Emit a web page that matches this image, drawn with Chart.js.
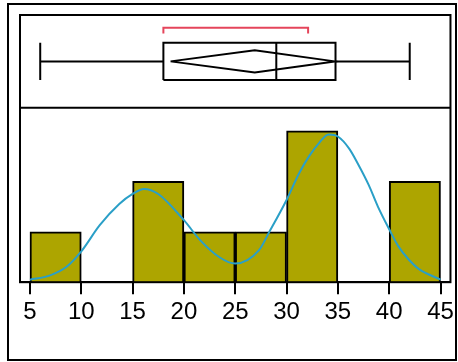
<!DOCTYPE html>
<html>
<head>
<meta charset="utf-8">
<script src="https://cdn.jsdelivr.net/npm/chart.js@4.4.1/dist/chart.umd.min.js"></script>
<style>
  html, body { margin: 0; padding: 0; background: #fff; }
  #wrap { position: relative; width: 458px; height: 362px; }
  #frame { position: absolute; left: 7px; top: 3px; width: 450px; height: 358px; border: 2px solid #000; box-sizing: border-box; }
  #chart { position: absolute; left: 0; top: 0; }
</style>
</head>
<body>
<div id="wrap">
  <div id="frame"></div>
  <canvas id="chart" width="458" height="362"></canvas>
</div>
<script>
// histogram bins (width 5)
const binCenters = [7.5, 12.5, 17.5, 22.5, 27.5, 32.5, 37.5, 42.5];
const binCounts = [1, 0, 2, 1, 1, 3, 0, 2];

// density curve (in count units)
const curveX = [5, 6.9, 8.6, 10, 11.8, 13.7, 15, 16.1, 17.5, 20, 21.6, 23.5, 25, 27.3, 28.3, 30, 31.2, 32.2, 33.2, 34.1, 35, 36.1, 37, 38, 38.9, 40, 40.9, 41.9, 42.9, 45];
const curveY = [0.05, 0.13, 0.31, 0.61, 1.13, 1.55, 1.75, 1.85, 1.75, 1.23, 0.83, 0.49, 0.37, 0.63, 0.99, 1.63, 2.15, 2.5, 2.77, 2.93, 2.89, 2.65, 2.33, 1.93, 1.5, 1.05, 0.71, 0.45, 0.26, 0.05];

// box plot summary
const whiskerLow = 6, q1 = 18, median = 29, q3 = 34.77, whiskerHigh = 42;
const meanVal = 26.9, ciLow = 18.7, ciHigh = 34.7;
const shortLow = 18, shortHigh = 32.1;

const xTicks = [5, 10, 15, 20, 25, 30, 35, 40, 45];

const BAR = '#ada500';
const CURVE = '#2a9fc7';
const RED = '#e5455b';

const pts = (arr) => arr.map(p => ({ x: p[0], y: p[1] }));
const boxLine = (data, color) => ({
  type: 'line', yAxisID: 'yBox', data: pts(data), borderColor: color || '#000',
  borderWidth: 2, pointRadius: 0, fill: false, tension: 0, spanGaps: false, order: 0
});

const panelFrame = {
  id: 'panelFrame',
  afterDatasetsDraw(chart) {
    const a = chart.chartArea;
    const ctx = chart.ctx;
    const sep = chart.scales.yBox.bottom;
    ctx.save();
    ctx.strokeStyle = '#000';
    ctx.lineWidth = 2;
    ctx.strokeRect(a.left, a.top, a.right - a.left, a.bottom - a.top);
    ctx.beginPath();
    ctx.moveTo(a.left, sep);
    ctx.lineTo(a.right, sep);
    ctx.stroke();
    ctx.restore();
  }
};

new Chart(document.getElementById('chart'), {
  type: 'bar',
  data: {
    datasets: [
      { type: 'line', yAxisID: 'y', data: curveX.map((x, i) => ({ x: x, y: curveY[i] })),
        borderColor: CURVE, borderWidth: 2, pointRadius: 0, fill: false,
        cubicInterpolationMode: 'monotone', order: 0 },
      { type: 'bar', yAxisID: 'y', data: binCenters.map((x, i) => ({ x: x, y: binCounts[i] })),
        backgroundColor: BAR, borderColor: '#000', borderWidth: 2,
        barPercentage: 1, categoryPercentage: 1, order: 1 },
      boxLine([[whiskerLow, 0.5], [q1, 0.5], [q1, null], [q3, 0.5], [whiskerHigh, 0.5]]),
      boxLine([[whiskerLow, 0.3], [whiskerLow, 0.7], [whiskerLow, null], [whiskerHigh, 0.3], [whiskerHigh, 0.7]]),
      boxLine([[q1, 0.3], [q1, 0.7], [q3, 0.7], [q3, 0.3], [q1, 0.3]]),
      boxLine([[median, 0.3], [median, 0.7]]),
      boxLine([[ciLow, 0.5], [meanVal, 0.62], [ciHigh, 0.5], [meanVal, 0.38], [ciLow, 0.5]]),
      boxLine([[shortLow, 0.8], [shortLow, 0.862], [shortHigh, 0.862], [shortHigh, 0.8]], RED)
    ]
  },
  options: {
    responsive: false,
    animation: false,
    layout: { padding: { left: 20, right: 6, top: 15, bottom: 31 } },
    plugins: { legend: { display: false }, tooltip: { enabled: false } },
    scales: {
      x: {
        type: 'linear', min: 4.03, max: 45.97, offset: false,
        afterBuildTicks: (s) => { s.ticks = xTicks.map(v => ({ value: v })); },
        grid: { offset: false, drawOnChartArea: false, drawTicks: true, tickLength: 12, color: '#000', lineWidth: 2 },
        border: { display: true, color: '#000', width: 2 },
        ticks: { color: '#000', font: { family: 'Liberation Sans, Arial, sans-serif', size: 24 }, padding: 4, maxRotation: 0, autoSkip: false }
      },
      y: { type: 'linear', position: 'left', stack: 'main', stackWeight: 173, min: 0, max: 3.46, display: false },
      yBox: { type: 'linear', position: 'left', stack: 'main', stackWeight: 92, min: 0, max: 1, display: false }
    }
  },
  plugins: [panelFrame]
});
</script>
</body>
</html>
